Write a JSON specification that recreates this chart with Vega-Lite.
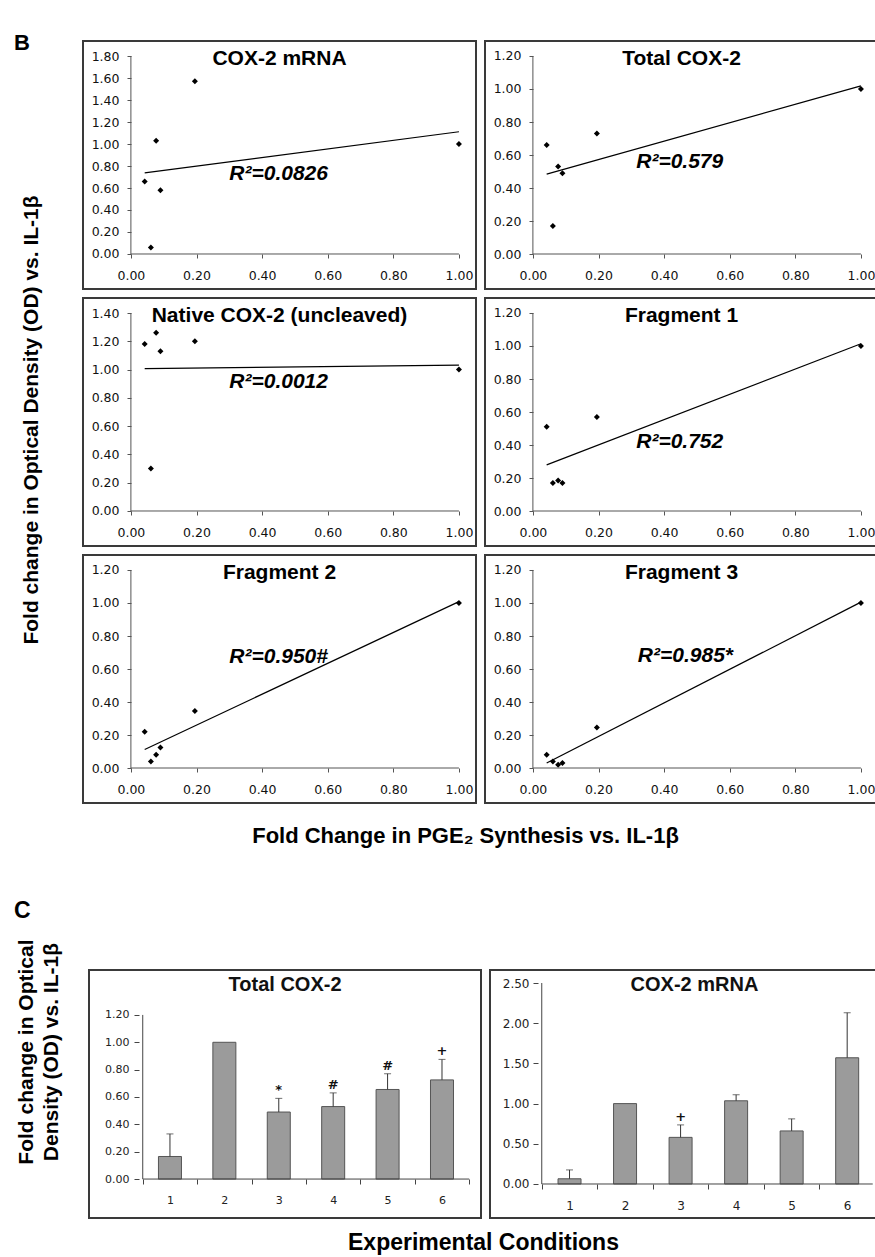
{
"$schema": "https://vega.github.io/schema/vega-lite/v6.json",
"background": "white",
"padding": {"left": 14, "top": 32, "right": 0, "bottom": 0},
"config": {"view": {"stroke": "#3a3a3a", "strokeWidth": 2}, "axis": {"labelOverlap": false, "labelFlush": false, "labelBound": false, "tickCount": 30}},
"datasets": {
"sc": [
{"p":"mRNA","x":0.042,"y":0.66},{"p":"mRNA","x":0.061,"y":0.06},{"p":"mRNA","x":0.077,"y":1.03},{"p":"mRNA","x":0.090,"y":0.58},{"p":"mRNA","x":0.195,"y":1.57},{"p":"mRNA","x":1.0,"y":1.0},
{"p":"Total","x":0.042,"y":0.66},{"p":"Total","x":0.061,"y":0.17},{"p":"Total","x":0.077,"y":0.53},{"p":"Total","x":0.090,"y":0.49},{"p":"Total","x":0.195,"y":0.73},{"p":"Total","x":1.0,"y":1.0},
{"p":"Native","x":0.042,"y":1.18},{"p":"Native","x":0.061,"y":0.30},{"p":"Native","x":0.077,"y":1.26},{"p":"Native","x":0.090,"y":1.13},{"p":"Native","x":0.195,"y":1.20},{"p":"Native","x":1.0,"y":1.0},
{"p":"Frag1","x":0.042,"y":0.51},{"p":"Frag1","x":0.061,"y":0.17},{"p":"Frag1","x":0.077,"y":0.185},{"p":"Frag1","x":0.090,"y":0.17},{"p":"Frag1","x":0.195,"y":0.57},{"p":"Frag1","x":1.0,"y":1.0},
{"p":"Frag2","x":0.042,"y":0.22},{"p":"Frag2","x":0.061,"y":0.04},{"p":"Frag2","x":0.077,"y":0.08},{"p":"Frag2","x":0.090,"y":0.125},{"p":"Frag2","x":0.195,"y":0.345},{"p":"Frag2","x":1.0,"y":1.0},
{"p":"Frag3","x":0.042,"y":0.08},{"p":"Frag3","x":0.061,"y":0.04},{"p":"Frag3","x":0.077,"y":0.02},{"p":"Frag3","x":0.090,"y":0.03},{"p":"Frag3","x":0.195,"y":0.245},{"p":"Frag3","x":1.0,"y":1.0}
],
"bars": [
{"p":"L","c":1,"v":0.165,"e":0.33,"m":""},{"p":"L","c":2,"v":1.0,"e":null,"m":""},{"p":"L","c":3,"v":0.49,"e":0.59,"m":"*"},{"p":"L","c":4,"v":0.53,"e":0.63,"m":"#"},{"p":"L","c":5,"v":0.655,"e":0.77,"m":"#"},{"p":"L","c":6,"v":0.725,"e":0.875,"m":"+"},
{"p":"R","c":1,"v":0.065,"e":0.175,"m":""},{"p":"R","c":2,"v":1.0,"e":null,"m":""},{"p":"R","c":3,"v":0.58,"e":0.735,"m":"+"},{"p":"R","c":4,"v":1.035,"e":1.11,"m":""},{"p":"R","c":5,"v":0.66,"e":0.81,"m":""},{"p":"R","c":6,"v":1.57,"e":2.13,"m":""}
]
},
"spacing": 53,
"vconcat": [
{
"spacing": 7,
"hconcat": [
{
"width": 61, "height": 758,
"view": {"stroke": null},
"data": {"values": [{}]},
"layer": [
{"mark": {"type": "text", "text": "B", "font": "Liberation Sans", "fontSize": 22, "fontWeight": "bold", "align": "left", "baseline": "top", "dy": -8, "color": "black"},
 "encoding": {"x": {"datum": 0, "type": "quantitative", "scale": {"domain": [0, 1]}, "axis": null}, "y": {"datum": 1, "type": "quantitative", "scale": {"domain": [0, 1]}, "axis": null}}},
{"mark": {"type": "text", "text": "Fold change in Optical Density (OD) vs. IL-1β", "font": "Liberation Sans", "fontSize": 21, "fontWeight": "bold", "align": "center", "baseline": "middle", "angle": 270, "color": "black"},
 "encoding": {"x": {"datum": 0.3, "type": "quantitative", "axis": null}, "y": {"datum": 0.5, "type": "quantitative", "axis": null}}}
]
},
{
"title": {"text": "Fold Change in PGE₂ Synthesis vs. IL-1β", "orient": "bottom", "anchor": "middle", "fontSize": 22, "font": "Liberation Sans", "fontWeight": "bold", "offset": 22, "dx": -15, "color": "black"},
"spacing": 7,
"vconcat": [
{"spacing": 7, "hconcat": [
{
"width": 393, "height": 248,
"layer": [
{"data": {"name": "sc"}, "transform": [{"filter": "datum.p === 'mRNA'"}],
 "mark": {"type": "point", "shape": "diamond", "filled": true, "size": 36, "color": "black", "opacity": 1},
 "encoding": {
  "x": {"field": "x", "type": "quantitative", "title": null, "scale": {"domain": [-0.146, 1.052], "nice": false, "zero": false}, "axis": {"values": [0,0.2,0.4,0.6,0.8,1], "format": ".2f", "offset": -35, "domain": false, "grid": false, "tickSize": 4, "tickColor": "#555", "labelFont": "DejaVu Sans", "labelFontSize": 12.5, "labelColor": "#111", "labelPadding": 11, "title": null}},
  "y": {"field": "y", "type": "quantitative", "title": null, "scale": {"domain": [-0.3182, 1.9364], "nice": false, "zero": false}, "axis": {"values": [0,0.2,0.4,0.6,0.8,1,1.2,1.4,1.6,1.8], "format": ".2f", "offset": -48, "domain": false, "grid": false, "tickSize": 4, "tickColor": "#555", "labelFont": "DejaVu Sans", "labelFontSize": 12.5, "labelColor": "#111", "labelPadding": 8, "title": null}}
 }},
{"data": {"name": "sc"}, "transform": [{"filter": "datum.p === 'mRNA'"}, {"regression": "y", "on": "x"}],
 "mark": {"type": "line", "color": "black", "strokeWidth": 1.2},
 "encoding": {"x": {"field": "x", "type": "quantitative", "title": null}, "y": {"field": "y", "type": "quantitative", "title": null}}},
{"data": {"values": [{}]}, "mark": {"type": "rule", "color": "#555"}, "encoding": {"x": {"datum": 0}, "y": {"datum": 0}, "y2": {"datum": 1.8}}},
{"data": {"values": [{}]}, "mark": {"type": "rule", "color": "#555"}, "encoding": {"x": {"datum": 0}, "x2": {"datum": 1}, "y": {"datum": 0}}},
{"data": {"values": [{}]}, "mark": {"type": "text", "text": "COX-2 mRNA", "font": "Liberation Sans", "fontSize": 21, "fontWeight": "bold", "align": "center", "baseline": "middle", "color": "black"}, "encoding": {"x": {"datum": 0.453}, "y": {"datum": 1.7728}}},
{"data": {"values": [{}]}, "mark": {"type": "text", "text": "R²=0.0826", "font": "Liberation Sans", "fontSize": 21, "fontWeight": "bold", "fontStyle": "italic", "align": "left", "baseline": "middle", "color": "black"}, "encoding": {"x": {"datum": 0.30}, "y": {"datum": 0.73}}}
]
},
{
"width": 393, "height": 248,
"layer": [
{"data": {"name": "sc"}, "transform": [{"filter": "datum.p === 'Total'"}],
 "mark": {"type": "point", "shape": "diamond", "filled": true, "size": 36, "color": "black", "opacity": 1},
 "encoding": {
  "x": {"field": "x", "type": "quantitative", "title": null, "scale": {"domain": [-0.146, 1.052], "nice": false, "zero": false}, "axis": {"values": [0,0.2,0.4,0.6,0.8,1], "format": ".2f", "offset": -35, "domain": false, "grid": false, "tickSize": 4, "tickColor": "#555", "labelFont": "DejaVu Sans", "labelFontSize": 12.5, "labelColor": "#111", "labelPadding": 11, "title": null}},
  "y": {"field": "y", "type": "quantitative", "title": null, "scale": {"domain": [-0.2121, 1.2909], "nice": false, "zero": false}, "axis": {"values": [0,0.2,0.4,0.6,0.8,1,1.2], "format": ".2f", "offset": -48, "domain": false, "grid": false, "tickSize": 4, "tickColor": "#555", "labelFont": "DejaVu Sans", "labelFontSize": 12.5, "labelColor": "#111", "labelPadding": 8, "title": null}}
 }},
{"data": {"name": "sc"}, "transform": [{"filter": "datum.p === 'Total'"}, {"regression": "y", "on": "x"}],
 "mark": {"type": "line", "color": "black", "strokeWidth": 1.2},
 "encoding": {"x": {"field": "x", "type": "quantitative", "title": null}, "y": {"field": "y", "type": "quantitative", "title": null}}},
{"data": {"values": [{}]}, "mark": {"type": "rule", "color": "#555"}, "encoding": {"x": {"datum": 0}, "y": {"datum": 0}, "y2": {"datum": 1.2}}},
{"data": {"values": [{}]}, "mark": {"type": "rule", "color": "#555"}, "encoding": {"x": {"datum": 0}, "x2": {"datum": 1}, "y": {"datum": 0}}},
{"data": {"values": [{}]}, "mark": {"type": "text", "text": "Total COX-2", "font": "Liberation Sans", "fontSize": 21, "fontWeight": "bold", "align": "center", "baseline": "middle", "color": "black"}, "encoding": {"x": {"datum": 0.453}, "y": {"datum": 1.1818}}},
{"data": {"values": [{}]}, "mark": {"type": "text", "text": "R²=0.579", "font": "Liberation Sans", "fontSize": 21, "fontWeight": "bold", "fontStyle": "italic", "align": "left", "baseline": "middle", "color": "black"}, "encoding": {"x": {"datum": 0.315}, "y": {"datum": 0.56}}}
]
}
]},
{"spacing": 7, "hconcat": [
{
"width": 393, "height": 248,
"layer": [
{"data": {"name": "sc"}, "transform": [{"filter": "datum.p === 'Native'"}],
 "mark": {"type": "point", "shape": "diamond", "filled": true, "size": 36, "color": "black", "opacity": 1},
 "encoding": {
  "x": {"field": "x", "type": "quantitative", "title": null, "scale": {"domain": [-0.146, 1.052], "nice": false, "zero": false}, "axis": {"values": [0,0.2,0.4,0.6,0.8,1], "format": ".2f", "offset": -35, "domain": false, "grid": false, "tickSize": 4, "tickColor": "#555", "labelFont": "DejaVu Sans", "labelFontSize": 12.5, "labelColor": "#111", "labelPadding": 11, "title": null}},
  "y": {"field": "y", "type": "quantitative", "title": null, "scale": {"domain": [-0.2475, 1.5061], "nice": false, "zero": false}, "axis": {"values": [0,0.2,0.4,0.6,0.8,1,1.2,1.4], "format": ".2f", "offset": -48, "domain": false, "grid": false, "tickSize": 4, "tickColor": "#555", "labelFont": "DejaVu Sans", "labelFontSize": 12.5, "labelColor": "#111", "labelPadding": 8, "title": null}}
 }},
{"data": {"name": "sc"}, "transform": [{"filter": "datum.p === 'Native'"}, {"regression": "y", "on": "x"}],
 "mark": {"type": "line", "color": "black", "strokeWidth": 1.2},
 "encoding": {"x": {"field": "x", "type": "quantitative", "title": null}, "y": {"field": "y", "type": "quantitative", "title": null}}},
{"data": {"values": [{}]}, "mark": {"type": "rule", "color": "#555"}, "encoding": {"x": {"datum": 0}, "y": {"datum": 0}, "y2": {"datum": 1.4}}},
{"data": {"values": [{}]}, "mark": {"type": "rule", "color": "#555"}, "encoding": {"x": {"datum": 0}, "x2": {"datum": 1}, "y": {"datum": 0}}},
{"data": {"values": [{}]}, "mark": {"type": "text", "text": "Native COX-2 (uncleaved)", "font": "Liberation Sans", "fontSize": 21, "fontWeight": "bold", "align": "center", "baseline": "middle", "color": "black"}, "encoding": {"x": {"datum": 0.453}, "y": {"datum": 1.3788}}},
{"data": {"values": [{}]}, "mark": {"type": "text", "text": "R²=0.0012", "font": "Liberation Sans", "fontSize": 21, "fontWeight": "bold", "fontStyle": "italic", "align": "left", "baseline": "middle", "color": "black"}, "encoding": {"x": {"datum": 0.30}, "y": {"datum": 0.91}}}
]
},
{
"width": 393, "height": 248,
"layer": [
{"data": {"name": "sc"}, "transform": [{"filter": "datum.p === 'Frag1'"}],
 "mark": {"type": "point", "shape": "diamond", "filled": true, "size": 36, "color": "black", "opacity": 1},
 "encoding": {
  "x": {"field": "x", "type": "quantitative", "title": null, "scale": {"domain": [-0.146, 1.052], "nice": false, "zero": false}, "axis": {"values": [0,0.2,0.4,0.6,0.8,1], "format": ".2f", "offset": -35, "domain": false, "grid": false, "tickSize": 4, "tickColor": "#555", "labelFont": "DejaVu Sans", "labelFontSize": 12.5, "labelColor": "#111", "labelPadding": 11, "title": null}},
  "y": {"field": "y", "type": "quantitative", "title": null, "scale": {"domain": [-0.2121, 1.2909], "nice": false, "zero": false}, "axis": {"values": [0,0.2,0.4,0.6,0.8,1,1.2], "format": ".2f", "offset": -48, "domain": false, "grid": false, "tickSize": 4, "tickColor": "#555", "labelFont": "DejaVu Sans", "labelFontSize": 12.5, "labelColor": "#111", "labelPadding": 8, "title": null}}
 }},
{"data": {"name": "sc"}, "transform": [{"filter": "datum.p === 'Frag1'"}, {"regression": "y", "on": "x"}],
 "mark": {"type": "line", "color": "black", "strokeWidth": 1.2},
 "encoding": {"x": {"field": "x", "type": "quantitative", "title": null}, "y": {"field": "y", "type": "quantitative", "title": null}}},
{"data": {"values": [{}]}, "mark": {"type": "rule", "color": "#555"}, "encoding": {"x": {"datum": 0}, "y": {"datum": 0}, "y2": {"datum": 1.2}}},
{"data": {"values": [{}]}, "mark": {"type": "rule", "color": "#555"}, "encoding": {"x": {"datum": 0}, "x2": {"datum": 1}, "y": {"datum": 0}}},
{"data": {"values": [{}]}, "mark": {"type": "text", "text": "Fragment 1", "font": "Liberation Sans", "fontSize": 21, "fontWeight": "bold", "align": "center", "baseline": "middle", "color": "black"}, "encoding": {"x": {"datum": 0.453}, "y": {"datum": 1.1818}}},
{"data": {"values": [{}]}, "mark": {"type": "text", "text": "R²=0.752", "font": "Liberation Sans", "fontSize": 21, "fontWeight": "bold", "fontStyle": "italic", "align": "left", "baseline": "middle", "color": "black"}, "encoding": {"x": {"datum": 0.315}, "y": {"datum": 0.42}}}
]
}
]},
{"spacing": 7, "hconcat": [
{
"width": 393, "height": 248,
"layer": [
{"data": {"name": "sc"}, "transform": [{"filter": "datum.p === 'Frag2'"}],
 "mark": {"type": "point", "shape": "diamond", "filled": true, "size": 36, "color": "black", "opacity": 1},
 "encoding": {
  "x": {"field": "x", "type": "quantitative", "title": null, "scale": {"domain": [-0.146, 1.052], "nice": false, "zero": false}, "axis": {"values": [0,0.2,0.4,0.6,0.8,1], "format": ".2f", "offset": -35, "domain": false, "grid": false, "tickSize": 4, "tickColor": "#555", "labelFont": "DejaVu Sans", "labelFontSize": 12.5, "labelColor": "#111", "labelPadding": 11, "title": null}},
  "y": {"field": "y", "type": "quantitative", "title": null, "scale": {"domain": [-0.2121, 1.2909], "nice": false, "zero": false}, "axis": {"values": [0,0.2,0.4,0.6,0.8,1,1.2], "format": ".2f", "offset": -48, "domain": false, "grid": false, "tickSize": 4, "tickColor": "#555", "labelFont": "DejaVu Sans", "labelFontSize": 12.5, "labelColor": "#111", "labelPadding": 8, "title": null}}
 }},
{"data": {"name": "sc"}, "transform": [{"filter": "datum.p === 'Frag2'"}, {"regression": "y", "on": "x"}],
 "mark": {"type": "line", "color": "black", "strokeWidth": 1.2},
 "encoding": {"x": {"field": "x", "type": "quantitative", "title": null}, "y": {"field": "y", "type": "quantitative", "title": null}}},
{"data": {"values": [{}]}, "mark": {"type": "rule", "color": "#555"}, "encoding": {"x": {"datum": 0}, "y": {"datum": 0}, "y2": {"datum": 1.2}}},
{"data": {"values": [{}]}, "mark": {"type": "rule", "color": "#555"}, "encoding": {"x": {"datum": 0}, "x2": {"datum": 1}, "y": {"datum": 0}}},
{"data": {"values": [{}]}, "mark": {"type": "text", "text": "Fragment 2", "font": "Liberation Sans", "fontSize": 21, "fontWeight": "bold", "align": "center", "baseline": "middle", "color": "black"}, "encoding": {"x": {"datum": 0.453}, "y": {"datum": 1.1818}}},
{"data": {"values": [{}]}, "mark": {"type": "text", "text": "R²=0.950#", "font": "Liberation Sans", "fontSize": 21, "fontWeight": "bold", "fontStyle": "italic", "align": "left", "baseline": "middle", "color": "black"}, "encoding": {"x": {"datum": 0.30}, "y": {"datum": 0.67}}}
]
},
{
"width": 393, "height": 248,
"layer": [
{"data": {"name": "sc"}, "transform": [{"filter": "datum.p === 'Frag3'"}],
 "mark": {"type": "point", "shape": "diamond", "filled": true, "size": 36, "color": "black", "opacity": 1},
 "encoding": {
  "x": {"field": "x", "type": "quantitative", "title": null, "scale": {"domain": [-0.146, 1.052], "nice": false, "zero": false}, "axis": {"values": [0,0.2,0.4,0.6,0.8,1], "format": ".2f", "offset": -35, "domain": false, "grid": false, "tickSize": 4, "tickColor": "#555", "labelFont": "DejaVu Sans", "labelFontSize": 12.5, "labelColor": "#111", "labelPadding": 11, "title": null}},
  "y": {"field": "y", "type": "quantitative", "title": null, "scale": {"domain": [-0.2121, 1.2909], "nice": false, "zero": false}, "axis": {"values": [0,0.2,0.4,0.6,0.8,1,1.2], "format": ".2f", "offset": -48, "domain": false, "grid": false, "tickSize": 4, "tickColor": "#555", "labelFont": "DejaVu Sans", "labelFontSize": 12.5, "labelColor": "#111", "labelPadding": 8, "title": null}}
 }},
{"data": {"name": "sc"}, "transform": [{"filter": "datum.p === 'Frag3'"}, {"regression": "y", "on": "x"}],
 "mark": {"type": "line", "color": "black", "strokeWidth": 1.2},
 "encoding": {"x": {"field": "x", "type": "quantitative", "title": null}, "y": {"field": "y", "type": "quantitative", "title": null}}},
{"data": {"values": [{}]}, "mark": {"type": "rule", "color": "#555"}, "encoding": {"x": {"datum": 0}, "y": {"datum": 0}, "y2": {"datum": 1.2}}},
{"data": {"values": [{}]}, "mark": {"type": "rule", "color": "#555"}, "encoding": {"x": {"datum": 0}, "x2": {"datum": 1}, "y": {"datum": 0}}},
{"data": {"values": [{}]}, "mark": {"type": "text", "text": "Fragment 3", "font": "Liberation Sans", "fontSize": 21, "fontWeight": "bold", "align": "center", "baseline": "middle", "color": "black"}, "encoding": {"x": {"datum": 0.453}, "y": {"datum": 1.1818}}},
{"data": {"values": [{}]}, "mark": {"type": "text", "text": "R²=0.985*", "font": "Liberation Sans", "fontSize": 21, "fontWeight": "bold", "fontStyle": "italic", "align": "left", "baseline": "middle", "color": "black"}, "encoding": {"x": {"datum": 0.32}, "y": {"datum": 0.68}}}
]
}
]}
]
}
]
},
{
"spacing": 7,
"hconcat": [
{
"width": 67, "height": 248,
"view": {"stroke": null},
"data": {"values": [{}]},
"layer": [
{"mark": {"type": "text", "text": "C", "font": "Liberation Sans", "fontSize": 23, "fontWeight": "bold", "align": "left", "baseline": "top", "dy": -70, "color": "black"},
 "encoding": {"x": {"datum": 0, "type": "quantitative", "scale": {"domain": [0, 1]}, "axis": null}, "y": {"datum": 1, "type": "quantitative", "scale": {"domain": [0, 1]}, "axis": null}}},
{"mark": {"type": "text", "text": ["Fold change in Optical", "Density (OD) vs. IL-1β"], "lineHeight": 25, "font": "Liberation Sans", "fontSize": 21, "fontWeight": "bold", "align": "center", "baseline": "middle", "angle": 270, "color": "black"},
 "encoding": {"x": {"datum": 0.2, "type": "quantitative", "axis": null}, "y": {"datum": 0.669, "type": "quantitative", "axis": null}}}
]
},
{
"title": {"text": "Experimental Conditions", "orient": "bottom", "anchor": "middle", "fontSize": 23, "font": "Liberation Sans", "fontWeight": "bold", "offset": 13, "color": "black"},
"spacing": 7,
"hconcat": [
{
"width": 392, "height": 248,
"data": {"name": "bars"},
"transform": [{"filter": "datum.p === 'L'"}],
"layer": [
{"mark": {"type": "bar", "width": 23, "color": "#9b9b9b", "stroke": "#555", "strokeWidth": 1},
 "encoding": {
  "x": {"field": "c", "type": "quantitative", "title": null, "scale": {"domain": [-0.396, 6.625], "nice": false, "zero": false}, "axis": {"values": [0.5,1,1.5,2,2.5,3,3.5,4,4.5,5,5.5,6,6.5], "labelExpr": "datum.value % 1 === 0 ? format(datum.value, 'd') : ''", "tickOpacity": {"condition": {"test": "datum.value % 1 === 0", "value": 0}, "value": 1}, "offset": -39, "domain": false, "grid": false, "tickSize": 5, "tickColor": "#444", "labelFont": "DejaVu Sans", "labelFontSize": 11, "labelColor": "#222", "labelPadding": 10, "title": null}},
  "y": {"field": "v", "type": "quantitative", "title": null, "scale": {"domain": [-0.2847, 1.5285], "nice": false, "zero": false}, "axis": {"values": [0,0.2,0.4,0.6,0.8,1,1.2], "format": ".2f", "offset": -50, "domain": false, "grid": false, "tickSize": 5, "tickColor": "#444", "labelFont": "DejaVu Sans", "labelFontSize": 11, "labelColor": "#222", "labelPadding": 5, "title": null}},
  "y2": {"datum": 0}
 }},
{"transform": [{"filter": "isValid(datum.e)"}], "mark": {"type": "rule", "color": "#333", "strokeWidth": 1},
 "encoding": {"x": {"field": "c", "type": "quantitative", "title": null}, "y": {"field": "v", "type": "quantitative", "title": null}, "y2": {"field": "e"}}},
{"transform": [{"filter": "isValid(datum.e)"}], "mark": {"type": "tick", "orient": "horizontal", "size": 7, "thickness": 1, "color": "#333"},
 "encoding": {"x": {"field": "c", "type": "quantitative", "title": null}, "y": {"field": "e", "type": "quantitative", "title": null}}},
{"transform": [{"filter": "datum.m !== ''"}], "mark": {"type": "text", "baseline": "bottom", "dy": -1, "fontSize": 13, "fontWeight": "bold", "font": "DejaVu Sans", "color": "#111"},
 "encoding": {"x": {"field": "c", "type": "quantitative", "title": null}, "y": {"field": "e", "type": "quantitative", "title": null}, "text": {"field": "m"}}},
{"data": {"values": [{}]}, "mark": {"type": "rule", "color": "#444"}, "encoding": {"x": {"datum": 0.5}, "y": {"datum": 0}, "y2": {"datum": 1.2}}},
{"data": {"values": [{}]}, "mark": {"type": "rule", "color": "#444"}, "encoding": {"x": {"datum": 0.5}, "x2": {"datum": 6.5}, "y": {"datum": 0}}},
{"data": {"values": [{}]}, "mark": {"type": "text", "text": "Total COX-2", "font": "Liberation Sans", "fontSize": 20, "fontWeight": "bold", "align": "center", "baseline": "middle", "color": "#111"}, "encoding": {"x": {"datum": 3.115}, "y": {"datum": 1.419}}}
]
},
{
"width": 388, "height": 248,
"data": {"name": "bars"},
"transform": [{"filter": "datum.p === 'R'"}],
"layer": [
{"mark": {"type": "bar", "width": 23, "color": "#9b9b9b", "stroke": "#555", "strokeWidth": 1},
 "encoding": {
  "x": {"field": "c", "type": "quantitative", "title": null, "scale": {"domain": [-0.342, 6.465], "nice": false, "zero": false}, "axis": {"values": [0.5,1,1.5,2,2.5,3,3.5,4,4.5,5,5.5,6], "labelExpr": "datum.value % 1 === 0 ? format(datum.value, 'd') : ''", "tickOpacity": {"condition": {"test": "datum.value % 1 === 0", "value": 0}, "value": 1}, "offset": -34, "domain": false, "grid": false, "tickSize": 5, "tickColor": "#444", "labelFont": "DejaVu Sans", "labelFontSize": 12, "labelColor": "#222", "labelPadding": 11, "title": null}},
  "y": {"field": "v", "type": "quantitative", "title": null, "scale": {"domain": [-0.423, 2.6617], "nice": false, "zero": false}, "axis": {"values": [0,0.5,1,1.5,2,2.5], "format": ".2f", "offset": -48, "domain": false, "grid": false, "tickSize": 5, "tickColor": "#444", "labelFont": "DejaVu Sans", "labelFontSize": 12, "labelColor": "#222", "labelPadding": 4, "title": null}},
  "y2": {"datum": 0}
 }},
{"transform": [{"filter": "isValid(datum.e)"}], "mark": {"type": "rule", "color": "#333", "strokeWidth": 1},
 "encoding": {"x": {"field": "c", "type": "quantitative", "title": null}, "y": {"field": "v", "type": "quantitative", "title": null}, "y2": {"field": "e"}}},
{"transform": [{"filter": "isValid(datum.e)"}], "mark": {"type": "tick", "orient": "horizontal", "size": 7, "thickness": 1, "color": "#333"},
 "encoding": {"x": {"field": "c", "type": "quantitative", "title": null}, "y": {"field": "e", "type": "quantitative", "title": null}}},
{"transform": [{"filter": "datum.m !== ''"}], "mark": {"type": "text", "baseline": "bottom", "dy": -1, "fontSize": 13, "fontWeight": "bold", "font": "DejaVu Sans", "color": "#111"},
 "encoding": {"x": {"field": "c", "type": "quantitative", "title": null}, "y": {"field": "e", "type": "quantitative", "title": null}, "text": {"field": "m"}}},
{"data": {"values": [{}]}, "mark": {"type": "rule", "color": "#444"}, "encoding": {"x": {"datum": 0.5}, "y": {"datum": 0}, "y2": {"datum": 2.5}}},
{"data": {"values": [{}]}, "mark": {"type": "rule", "color": "#444"}, "encoding": {"x": {"datum": 0.5}, "x2": {"datum": 6.46}, "y": {"datum": 0}}},
{"data": {"values": [{}]}, "mark": {"type": "text", "text": "COX-2 mRNA", "font": "Liberation Sans", "fontSize": 20, "fontWeight": "bold", "align": "center", "baseline": "middle", "color": "#111"}, "encoding": {"x": {"datum": 3.25}, "y": {"datum": 2.475}}}
]
}
]
}
]
}
]
}
